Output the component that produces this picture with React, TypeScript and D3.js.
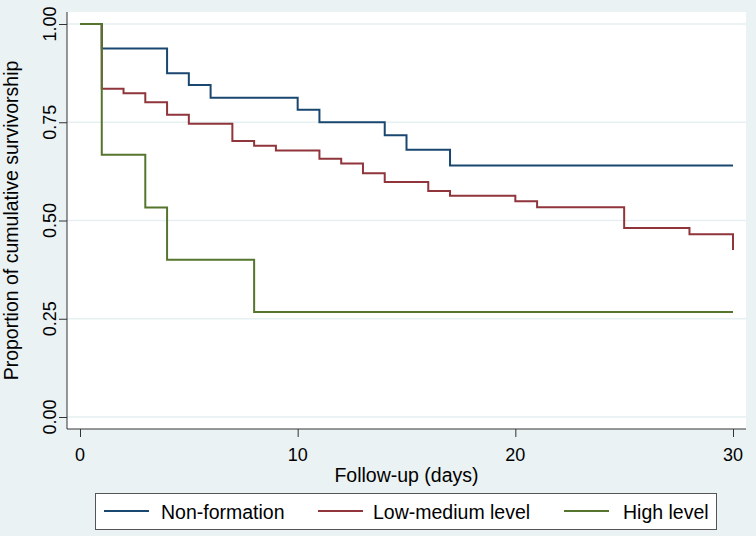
import React, { useEffect, useRef } from "react";
import * as d3 from "d3";

// Kaplan-Meier step estimates (time in days, survival proportion)
const nonFormationTimes = [0, 1, 4, 5, 6, 10, 11, 14, 15, 17, 30];
const nonFormationSurv = [1, 0.9375, 0.875, 0.845, 0.8125, 0.782, 0.75, 0.717, 0.68, 0.64, 0.64];

const lowMediumTimes = [0, 1, 2, 3, 4, 5, 7, 8, 9, 11, 12, 13, 14, 16, 17, 20, 21, 25, 28, 30];
const lowMediumSurv = [1, 0.835, 0.824, 0.801, 0.769, 0.746, 0.702, 0.69, 0.678, 0.657, 0.645, 0.62, 0.598, 0.575, 0.563, 0.549, 0.534, 0.481, 0.465, 0.425];

const highTimes = [0, 1, 3, 4, 8, 30];
const highSurv = [1, 0.667, 0.533, 0.4, 0.267, 0.267];

const groupNames = ["Non-formation", "Low-medium level", "High level"];
const groupColors = ["#1a476f", "#90353b", "#55752f"];

const yTicks = [0, 0.25, 0.5, 0.75, 1];
const xTicks = [0, 10, 20, 30];

const App = () => {
  const svgRef = useRef<SVGSVGElement>(null);

  useEffect(() => {
    const svg = d3.select(svgRef.current);
    svg.selectAll("*").remove();

    const width = 756, height = 536;
    const font = "'Liberation Sans', Arial, sans-serif";
    const plotLeft = 67, plotRight = 746, plotTop = 12, plotBottom = 429;

    const x = d3.scaleLinear().domain([0, 30]).range([80, 733]);
    const y = d3.scaleLinear().domain([0, 1]).range([417, 24]);

    // backgrounds
    svg.append("rect").attr("width", width).attr("height", height).attr("fill", "#eaf2f3");
    svg.append("rect")
      .attr("x", plotLeft).attr("y", plotTop)
      .attr("width", plotRight - plotLeft).attr("height", plotBottom - plotTop)
      .attr("fill", "#ffffff");

    // gridlines
    svg.append("g").selectAll("line").data(yTicks).join("line")
      .attr("x1", plotLeft).attr("x2", plotRight)
      .attr("y1", d => y(d)).attr("y2", d => y(d))
      .attr("stroke", "#e6eff1").attr("stroke-width", 1.5);

    // y axis
    const yAxis = svg.append("g")
      .attr("transform", `translate(${plotLeft},0)`)
      .call(d3.axisLeft(y).tickValues(yTicks).tickSize(8).tickSizeOuter(0).tickFormat(() => ""));
    yAxis.select(".domain").attr("d", `M0,${plotTop}V${plotBottom}`).attr("stroke", "#333");
    yAxis.selectAll(".tick line").attr("stroke", "#333");

    svg.append("g").selectAll("text").data(yTicks).join("text")
      .attr("transform", d => `translate(56,${y(d)}) rotate(-90)`)
      .attr("text-anchor", "middle")
      .style("font-family", font).style("font-size", "18px").attr("fill", "#000")
      .text(d => d3.format(".2f")(d));

    // x axis
    const xAxis = svg.append("g")
      .attr("transform", `translate(0,${plotBottom})`)
      .call(d3.axisBottom(x).tickValues(xTicks).tickSize(8).tickSizeOuter(0).tickFormat(() => ""));
    xAxis.select(".domain").attr("d", `M${plotLeft},0H${plotRight}`).attr("stroke", "#333");
    xAxis.selectAll(".tick line").attr("stroke", "#333");

    svg.append("g").selectAll("text").data(xTicks).join("text")
      .attr("x", d => x(d)).attr("y", 461)
      .attr("text-anchor", "middle")
      .style("font-family", font).style("font-size", "18px").attr("fill", "#000")
      .text(d => String(d));

    // axis titles
    svg.append("text")
      .attr("x", (plotLeft + plotRight) / 2).attr("y", 482)
      .attr("text-anchor", "middle")
      .style("font-family", font).style("font-size", "19.5px")
      .text("Follow-up (days)");
    svg.append("text")
      .attr("transform", `translate(18,${(plotTop + plotBottom) / 2}) rotate(-90)`)
      .attr("text-anchor", "middle")
      .style("font-family", font).style("font-size", "19.5px")
      .text("Proportion of cumulative survivorship");

    // survival curves
    const series = [
      nonFormationTimes.map((t, i) => [t, nonFormationSurv[i]] as [number, number]),
      lowMediumTimes.map((t, i) => [t, lowMediumSurv[i]] as [number, number]),
      highTimes.map((t, i) => [t, highSurv[i]] as [number, number]),
    ];
    const line = d3.line<[number, number]>()
      .x(d => x(d[0]))
      .y(d => y(d[1]))
      .curve(d3.curveStepAfter);

    series.forEach((s, i) => {
      svg.append("path")
        .datum(s)
        .attr("fill", "none")
        .attr("stroke", groupColors[i])
        .attr("stroke-width", 2)
        .attr("d", line);
    });

    // legend
    svg.append("rect")
      .attr("x", 95.5).attr("y", 493.5).attr("width", 621).attr("height", 36)
      .attr("fill", "#ffffff").attr("stroke", "#555").attr("stroke-width", 1);
    const legendLineX = [104, 318, 564];
    const legend = svg.append("g").selectAll("g").data(groupNames).join("g")
      .attr("transform", (d, i) => `translate(${legendLineX[i]},511)`);
    legend.append("line")
      .attr("x1", 0).attr("x2", 45).attr("y1", 0).attr("y2", 0)
      .attr("stroke", (d, i) => groupColors[i]).attr("stroke-width", 2);
    legend.append("text")
      .attr("x", (d, i) => [57, 55, 59][i]).attr("y", 8)
      .style("font-family", font).style("font-size", "19.5px")
      .text(d => d);
  }, []);

  return (
    <svg
      ref={svgRef}
      width={756}
      height={536}
      style={{ position: "absolute", left: 0, top: 0, display: "block" }}
    ></svg>
  );
};

export default App;
